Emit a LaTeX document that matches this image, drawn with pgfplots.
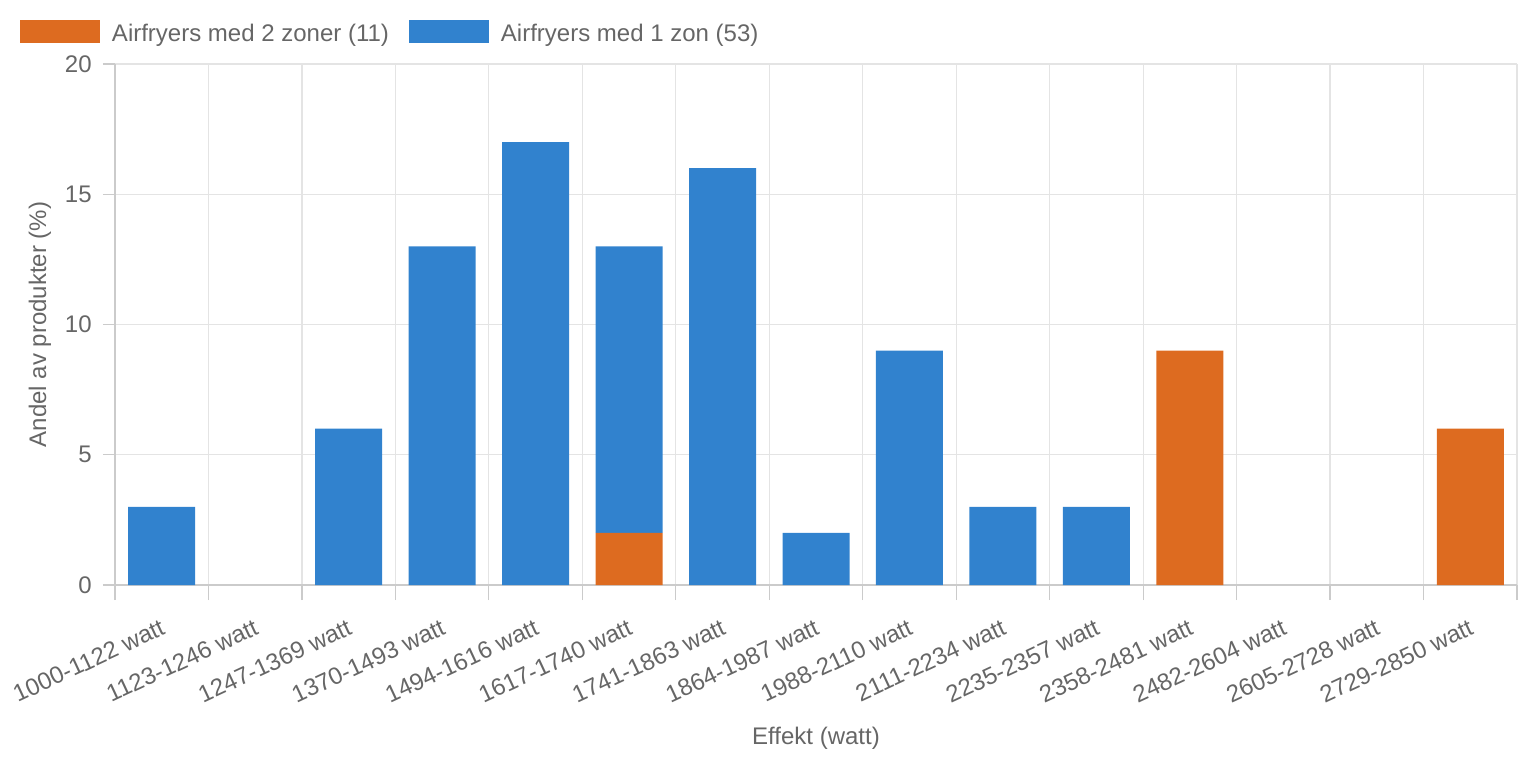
\documentclass[border=0pt]{standalone}
\usepackage{fontspec}
\setmainfont{Liberation Sans}
\usepackage{pgfplots}
\pgfplotsset{compat=1.18}
\definecolor{bblue}{HTML}{3182CE}
\definecolor{borange}{HTML}{DD6B20}
\definecolor{txt}{HTML}{666666}
\definecolor{gridc}{HTML}{E4E4E4}
\definecolor{axc}{HTML}{CBCBCB}
\begin{document}
\begin{tikzpicture}
\begin{axis}[
  at={(0,0)}, anchor=south west,
  scale only axis, width=701bp, height=260.5bp,
  font=\fontsize{12bp}{14bp}\selectfont,
  /pgf/number format/assume math mode=true,
  ybar stacked, bar width=33.5bp,
  xmin=0.5, xmax=15.5, ymin=0, ymax=20,
  axis x line*=bottom, axis y line*=left,
  axis line style={axc, line width=0.6bp, -},
  xtick={1,...,15},
  xticklabels={1000-1122 watt,1123-1246 watt,1247-1369 watt,1370-1493 watt,1494-1616 watt,1617-1740 watt,1741-1863 watt,1864-1987 watt,1988-2110 watt,2111-2234 watt,2235-2357 watt,2358-2481 watt,2482-2604 watt,2605-2728 watt,2729-2850 watt},
  minor xtick={0.5,1.5,...,15.5},
  ytick={0,5,10,15,20},
  ymajorgrids, xminorgrids,
  major grid style={gridc, line width=0.6bp},
  minor grid style={gridc, line width=0.6bp},
  tick align=outside,
  major tick length=6bp, minor tick length=7.5bp,
  every major x tick/.append style={draw=none},
  tick style={axc, line width=0.6bp},
  xticklabel style={rotate=25, anchor=north east, inner sep=0pt, text=txt, xshift=-5.5bp, yshift=-9bp},
  yticklabel style={inner sep=0pt, text=txt, xshift=-5.5bp},
  xlabel={Effekt (watt)},
  ylabel={Andel av produkter (\%)},
  xlabel style={at={(axis description cs:0.5,-0.2937)}, anchor=center, text=txt},
  ylabel style={at={(axis description cs:-0.0535,0.5)}, anchor=center, text=txt},
  legend columns=-1,
  legend style={at={(axis description cs:-0.06776,1.08445)}, anchor=north west,
    draw=none, fill=none, inner sep=0pt, outer sep=0pt,
    nodes={inner sep=0pt, text=txt},
    /tikz/every odd column/.append style={column sep=6bp},
    /tikz/every even column/.append style={column sep=10bp}},
  legend cell align=left,
  legend image code/.code={\fill[#1] (0bp,-4.5bp) rectangle (40bp,7bp);},
]
\addplot[fill=borange, draw=none] coordinates {(1,0)(2,0)(3,0)(4,0)(5,0)(6,2)(7,0)(8,0)(9,0)(10,0)(11,0)(12,9)(13,0)(14,0)(15,6)};
\addlegendentry{Airfryers med 2 zoner (11)}
\addplot[fill=bblue, draw=none] coordinates {(1,3)(2,0)(3,6)(4,13)(5,17)(6,11)(7,16)(8,2)(9,9)(10,3)(11,3)(12,0)(13,0)(14,0)(15,0)};
\addlegendentry{Airfryers med 1 zon (53)}
\end{axis}
\pgfresetboundingbox
\path[use as bounding box] (-57.5bp,-86.5bp) rectangle (701.5bp,292.5bp);
\end{tikzpicture}
\end{document}
